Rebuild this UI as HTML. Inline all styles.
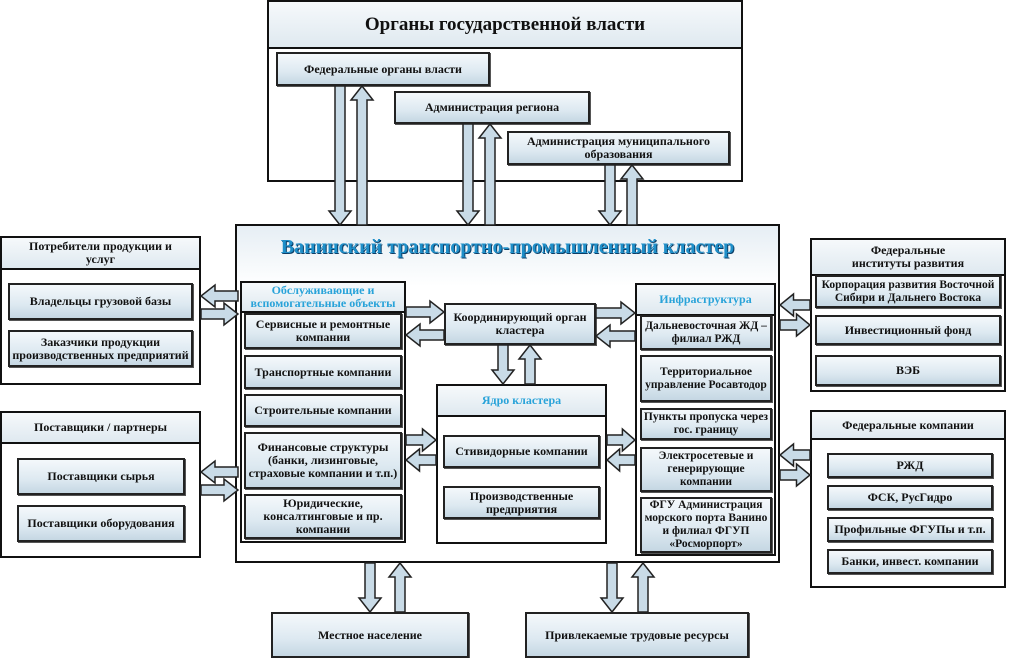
<!DOCTYPE html>
<html><head><meta charset="utf-8"><style>
body{margin:0;width:1010px;height:656px;background:#fff;position:relative;overflow:hidden;font-family:"Liberation Serif","Noto Serif CJK SC",serif;font-weight:bold;color:#111}
.b{position:absolute;box-sizing:border-box;border:2px solid #111;background:#fff}
.g{position:absolute;box-sizing:border-box;border:2px solid #222;background:linear-gradient(#f4f8fb,#dde9f1 60%,#c5d7e3);display:flex;align-items:center;justify-content:center;text-align:center;font-size:12px;line-height:13px;box-shadow:1px 1px 0 #555}
.i{font-size:11.5px}
.h{position:absolute;left:0;right:0;top:0;border-bottom:2px solid #111;background:linear-gradient(#f6f9fb,#dfe9f0);display:flex;align-items:center;justify-content:center;text-align:center;font-size:12px;line-height:13px}
.c{color:#29a3d9}
svg{position:absolute;left:0;top:0}
</style></head><body>
<div class="b" style="left:267px;top:0;width:476px;height:182px"><div class="h" style="height:45px;font-size:19px">Органы государственной власти</div></div>
<div class="g" style="left:276px;top:52px;width:214px;height:34px">Федеральные органы власти</div>
<div class="g" style="left:394px;top:91px;width:196px;height:33px">Администрация региона</div>
<div class="g" style="left:507px;top:131px;width:223px;height:34px">Администрация муниципального образования</div>

<div class="b" style="left:235px;top:224px;width:545px;height:339px;background:linear-gradient(#e6eef4,#fff 18%)"></div>
<div style="position:absolute;left:235px;width:545px;top:236px;text-align:center;font-size:20px;color:#1f8fc9;text-shadow:1px 1px 0 #0b3d66">Ванинский транспортно-промышленный кластер</div>

<div class="b" style="left:240px;top:281px;width:166px;height:262px"><div class="h c" style="height:28px">Обслуживающие и вспомогательные объекты</div></div>
<div class="g" style="left:244px;top:313px;width:158px;height:36px">Сервисные и ремонтные компании</div>
<div class="g" style="left:244px;top:355px;width:158px;height:34px">Транспортные компании</div>
<div class="g" style="left:244px;top:394px;width:158px;height:33px">Строительные компании</div>
<div class="g" style="left:244px;top:432px;width:158px;height:57px">Финансовые структуры (банки, лизинговые, страховые компании и т.п.)</div>
<div class="g" style="left:244px;top:494px;width:158px;height:45px">Юридические, консалтинговые и пр. компании</div>

<div class="g" style="left:444px;top:303px;width:152px;height:42px">Координирующий орган кластера</div>

<div class="b" style="left:436px;top:384px;width:171px;height:160px"><div class="h c" style="height:29px">Ядро кластера</div></div>
<div class="g" style="left:443px;top:435px;width:157px;height:33px">Стивидорные компании</div>
<div class="g" style="left:443px;top:486px;width:157px;height:33px">Производственные предприятия</div>

<div class="b" style="left:635px;top:283px;width:141px;height:273px"><div class="h c" style="height:29px">Инфраструктура</div></div>
<div class="g i" style="left:640px;top:315px;width:132px;height:35px">Дальневосточная ЖД – филиал РЖД</div>
<div class="g i" style="left:640px;top:355px;width:132px;height:47px">Территориальное управление Росавтодор</div>
<div class="g i" style="left:640px;top:408px;width:132px;height:32px">Пункты пропуска через гос. границу</div>
<div class="g i" style="left:640px;top:447px;width:132px;height:45px">Электросетевые и генерирующие компании</div>
<div class="g i" style="left:640px;top:497px;width:132px;height:56px">ФГУ Администрация морского порта Ванино и филиал ФГУП «Росморпорт»</div>

<div class="b" style="left:0;top:236px;width:201px;height:149px"><div class="h" style="height:30px;padding:0 25px">Потребители продукции и услуг</div></div>
<div class="g" style="left:8px;top:283px;width:185px;height:37px">Владельцы грузовой базы</div>
<div class="g" style="left:8px;top:330px;width:185px;height:37px">Заказчики продукции производственных предприятий</div>
<div class="b" style="left:0;top:411px;width:201px;height:147px"><div class="h" style="height:29px">Поставщики / партнеры</div></div>
<div class="g" style="left:17px;top:458px;width:168px;height:37px">Поставщики сырья</div>
<div class="g" style="left:17px;top:505px;width:168px;height:37px">Поставщики оборудования</div>

<div class="b" style="left:810px;top:238px;width:196px;height:154px"><div class="h" style="height:34px;padding:0 30px">Федеральные институты развития</div></div>
<div class="g" style="left:815px;top:275px;width:186px;height:33px;font-size:11.5px">Корпорация развития Восточной Сибири и Дальнего Востока</div>
<div class="g" style="left:815px;top:315px;width:186px;height:30px">Инвестиционный фонд</div>
<div class="g" style="left:815px;top:355px;width:186px;height:31px">ВЭБ</div>
<div class="b" style="left:810px;top:410px;width:196px;height:178px"><div class="h" style="height:26px">Федеральные компании</div></div>
<div class="g" style="left:827px;top:453px;width:166px;height:25px">РЖД</div>
<div class="g" style="left:827px;top:485px;width:166px;height:25px">ФСК, РусГидро</div>
<div class="g" style="left:827px;top:517px;width:166px;height:25px">Профильные ФГУПы и т.п.</div>
<div class="g" style="left:827px;top:549px;width:166px;height:25px">Банки, инвест. компании</div>

<div class="g" style="left:271px;top:612px;width:198px;height:46px">Местное население</div>
<div class="g" style="left:525px;top:612px;width:224px;height:46px">Привлекаемые трудовые ресурсы</div>

<svg id="s" width="1010" height="656"></svg>
<script>
var A=[
['v',340,86,225],['v',362,225,86],['v',468,124,225],['v',490,225,124],['v',610,165,225],['v',632,225,165],
['v',370,563,612],['v',400,612,563],['v',612,563,612],['v',643,612,563],
['h',296,238,201],['h',314,201,238],['h',472,238,201],['h',490,201,238],
['h',305,810,780],['h',325,780,810],['h',455,810,780],['h',475,780,810],
['h',312,406,444],['h',335,444,406],['h',313,596,635],['h',336,635,596],
['h',440,406,436],['h',460,436,406],['h',440,607,635],['h',460,635,607],
['v',503,345,384],['v',530,384,345]];
var s='';
A.forEach(function(a){
 var c=a[1],p=a[2],q=a[3],d=q>p?1:-1,L=Math.abs(q-p),hl=Math.min(14,L*0.45),w=5,hw=11,m=q-d*hl,pts;
 if(a[0]=='v')pts=[[c-w,p],[c+w,p],[c+w,m],[c+hw,m],[c,q],[c-hw,m],[c-w,m]];
 else pts=[[p,c-w],[p,c+w],[m,c+w],[m,c+hw],[q,c],[m,c-hw],[m,c-w]];
 s+='<polygon points="'+pts.map(function(x){return x.join(',')}).join(' ')+'" fill="#c9dbe7" stroke="#222" stroke-width="1.5"/>';
});
document.getElementById('s').innerHTML=s;
</script>
</body></html>
